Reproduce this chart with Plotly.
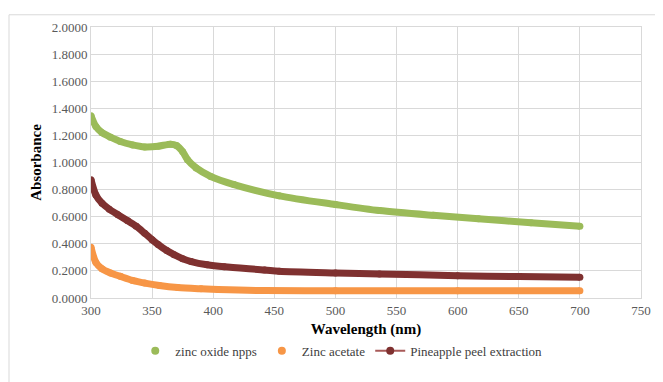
import plotly.graph_objects as go

# Wavelength (nm) sample points and absorbance readings
zno_wl = [300, 304, 309, 316, 324, 334, 344, 355, 365, 370, 375, 379, 386, 398, 417, 454, 500, 536, 580, 617, 660, 700]
zno_abs = [1.345, 1.265, 1.22, 1.187, 1.155, 1.13, 1.115, 1.12, 1.135, 1.125, 1.08, 1.02, 0.96, 0.897, 0.837, 0.754, 0.69, 0.645, 0.61, 0.585, 0.555, 0.53]

acet_wl = [300, 304, 309, 316, 324, 334, 344, 356, 371, 390, 404, 442, 500, 600, 700]
acet_abs = [0.374, 0.262, 0.215, 0.185, 0.16, 0.13, 0.11, 0.092, 0.077, 0.068, 0.063, 0.055, 0.054, 0.054, 0.053]

pine_wl = [300, 304, 309, 315, 322, 330, 337, 344, 350, 355, 362, 368, 375, 382, 395, 409, 442, 454, 500, 536, 600, 650, 700]
pine_abs = [0.873, 0.76, 0.70, 0.655, 0.615, 0.57, 0.53, 0.477, 0.43, 0.394, 0.35, 0.32, 0.29, 0.269, 0.245, 0.23, 0.207, 0.197, 0.185, 0.178, 0.165, 0.158, 0.153]

names = ["zinc oxide npps", "Zinc acetate", "Pineapple peel extraction"]
colors = ["#9BBB59", "#F79646", "#7F3130"]

x_ticks = [300, 350, 400, 450, 500, 550, 600, 650, 700, 750]
y_ticks = [0, 0.2, 0.4, 0.6, 0.8, 1.0, 1.2, 1.4, 1.6, 1.8, 2.0]

FONT = "Liberation Serif, Times New Roman, serif"

fig = go.Figure()

series = [(zno_wl, zno_abs), (acet_wl, acet_abs), (pine_wl, pine_abs)]
for (xs, ys), c, n in zip(series, colors, names):
    fig.add_trace(go.Scatter(
        x=xs, y=ys, mode="lines+markers", name=n, showlegend=False,
        line=dict(color=c, width=7, shape="spline", smoothing=0.8),
        marker=dict(color=c, size=7),
        hoverinfo="skip",
    ))

# legend entries
fig.add_trace(go.Scatter(x=[None], y=[None], mode="markers", name=names[0],
                         marker=dict(color=colors[0], size=8)))
fig.add_trace(go.Scatter(x=[None], y=[None], mode="markers", name=names[1],
                         marker=dict(color=colors[1], size=8)))
fig.add_trace(go.Scatter(x=[None], y=[None], mode="lines+markers", name=names[2],
                         line=dict(color="#A85A58", width=2),
                         marker=dict(color=colors[2], size=8)))

# The page body has an 8px margin, so the figure is sized/offset to compensate.
W, H = 655, 374
L, T = 83, 13
PW, PH = 553, 277

fig.update_layout(
    width=W, height=H,
    margin=dict(l=L, r=W - L - PW, t=T, b=H - T - PH),
    paper_bgcolor="white", plot_bgcolor="white",
    font=dict(family=FONT, size=12, color="#595959"),
    showlegend=True,
    legend=dict(orientation="h", x=0.455, xanchor="center", y=-0.195, yanchor="middle",
                font=dict(family=FONT, size=13, color="#404040"),
                itemwidth=30, tracegroupgap=0),
    xaxis=dict(
        range=[300, 750], tickvals=x_ticks, ticktext=[str(v) for v in x_ticks],
        showgrid=True, gridcolor="#D9D9D9", gridwidth=1,
        showline=True, linecolor="#D9D9D9", mirror=True, zeroline=False,
        ticks="", tickfont=dict(family=FONT, size=13, color="#595959"),
        title=dict(text="<b>Wavelength (nm)</b>", font=dict(family=FONT, size=15, color="#000000"), standoff=6),
    ),
    yaxis=dict(
        range=[0, 2.0], tickvals=y_ticks, tickformat=".4f",
        showgrid=True, gridcolor="#D9D9D9", gridwidth=1,
        showline=True, linecolor="#D9D9D9", mirror=True, zeroline=False,
        ticks="", tickfont=dict(family=FONT, size=13, color="#595959"),
        title=dict(text="<b>Absorbance</b>", font=dict(family=FONT, size=15, color="#000000"), standoff=6),
    ),
    shapes=[dict(type="rect", xref="paper", yref="paper",
                 x0=-L / PW + 0.001, x1=1.2, y0=-0.5, y1=(PH + T - 0.5) / PH,
                 line=dict(color="#D9D9D9", width=1), fillcolor="rgba(0,0,0,0)", layer="below")],
)

fig.write_html("out.html")
